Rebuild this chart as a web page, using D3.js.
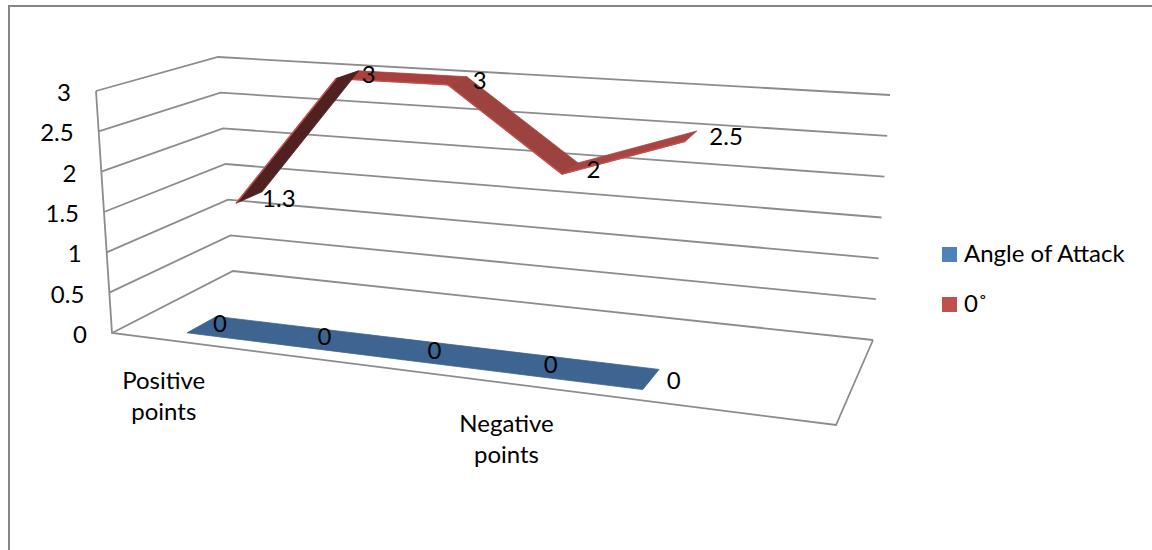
<!DOCTYPE html>
<html><head><meta charset="utf-8">
<script src="https://cdn.jsdelivr.net/npm/d3@7/dist/d3.min.js"></script>
<style>html,body{margin:0;padding:0;background:#fff}svg{display:block}text{font-family:Lato,"Open Sans",sans-serif;fill:#000}</style>
</head><body><svg id="c" width="1152" height="550"></svg>
<script>
const categories = ["Positive points", "", "", "Negative points", ""];
const categoryLines = [["Positive", "points"], [], [], ["Negative", "points"], []];
const seriesNames = ["Angle of Attack", "0˚"];
const angleValues = [0, 0, 0, 0, 0];
const zeroDegValues = [1.3, 3, 3, 2, 2.5];
const valueTicks = [0, 0.5, 1, 1.5, 2, 2.5, 3];
const colors = ["#4f81bd", "#c0504d"];
const fontSize = 24;

const svg = d3.select("#c");
svg.append("rect").attr("x",9).attr("y",6).attr("width",1150).attr("height",560).attr("fill","#fff").attr("stroke","#868686").attr("stroke-width",2);

const FL=[112,333], BL=[233,271], BR=[873,340], FR=[836,425];
const upFL=[-16,-242], upBL=[-15,-214], upBR=[17,-245], upFR=[36,-285];
function homography(){
  const [x0,y0]=FL,[x1,y1]=FR,[x2,y2]=BR,[x3,y3]=BL;
  const dx1=x1-x2,dx2=x3-x2,sx=x0-x1+x2-x3,dy1=y1-y2,dy2=y3-y2,sy=y0-y1+y2-y3;
  const den=dx1*dy2-dx2*dy1;
  const g=(sx*dy2-dx2*sy)/den,h=(dx1*sy-sx*dy1)/den;
  const a=x1-x0+g*x1,b=x3-x0+h*x3,c=x0,d=y1-y0+g*y1,e=y3-y0+h*y3,f=y0;
  return (u,v)=>{const w=g*u+h*v+1;return [(a*u+b*v+c)/w,(d*u+e*v+f)/w];};
}
const floor=homography();
const yScale=d3.scaleLinear().domain([0,3]).range([0,1]);
const uScale=d3.scalePoint().domain(d3.range(categories.length)).range([0.098,0.755]);
const depthScale=d3.scaleBand().domain(seriesNames).range([0.11,0.80]).paddingInner(0.47).paddingOuter(0);
function project(u,v,val){
  const p=floor(u,v),k=yScale(val);
  const b=(a,c,d,e)=>(a*(1-u)*(1-v)+c*u*(1-v)+d*u*v+e*(1-u)*v);
  return [p[0]+k*b(upFL[0],upFR[0],upBR[0],upBL[0]),p[1]+k*b(upFL[1],upFR[1],upBR[1],upBL[1])];
}
const line=d3.line();
const gridG=svg.append("g").attr("fill","none").attr("stroke","#8c8c8c").attr("stroke-width",1.8);
valueTicks.forEach(t=>{
  gridG.append("path").attr("d",line([project(0,0,t),project(0,1,t),project(1,1,t)]));
});
gridG.append("path").attr("d",line([project(0,0,3),project(0,0,0),project(1,0,0),project(1,1,0)]));

const yLabels=svg.append("g").attr("font-size",fontSize).attr("text-anchor","end");
valueTicks.forEach(t=>{const p=project(0,0,t);yLabels.append("text").attr("x",p[0]-25).attr("y",p[1]+10).text(t);});

const xShift=d3.scaleLinear().domain([0,3]).range([-9,-3]);
const xLabels=svg.append("g").attr("font-size",fontSize).attr("text-anchor","middle");
categoryLines.forEach((ls,i)=>{
  const p=floor(uScale(i),0);
  ls.forEach((s,j)=>xLabels.append("text").attr("x",p[0]+xShift(i)).attr("y",p[1]+48+j*31).text(s));
});

const seriesVals=[angleValues,zeroDegValues];
const labelDy=[-1,4];
const segShades=[["#3e6491","#3e6491","#3e6491","#3e6491"],["#4f2120","#a8403d","#9c4340","#a84543"]];
seriesNames.forEach((name,s)=>{
  const v0=depthScale(name),v1=v0+depthScale.bandwidth(),vals=seriesVals[s];
  const g=svg.append("g");
  for(let i=vals.length-2;i>=0;i--){
    const u0=uScale(i),u1=uScale(i+1);
    g.append("path").attr("d",line([project(u0,v0,vals[i]),project(u1,v0,vals[i+1]),project(u1,v1,vals[i+1]),project(u0,v1,vals[i])])+"Z")
      .attr("fill",segShades[s][i]).attr("stroke",segShades[s][i]).attr("stroke-width",0.8);
    if(s===1) g.append("path").attr("d",line([project(u0,v0,vals[i]),project(u1,v0,vals[i+1])])).attr("stroke",colors[1]).attr("stroke-width",1.5).attr("fill","none");
  }
  const lab=svg.append("g").attr("font-size",fontSize);
  vals.forEach((d,i)=>{
    const p=project(uScale(i),v0,d);
    lab.append("text").attr("x",p[0]+26-0.5*i).attr("y",p[1]+labelDy[s]).text(d);
  });
});

const leg=svg.append("g").attr("font-size",fontSize);
seriesNames.forEach((n,i)=>{
  const y=254+i*50;
  leg.append("rect").attr("x",942).attr("y",y-7).attr("width",15).attr("height",15).attr("fill",colors[i]);
  leg.append("text").attr("x",964).attr("y",y+8).text(n);
});
</script></body></html>
